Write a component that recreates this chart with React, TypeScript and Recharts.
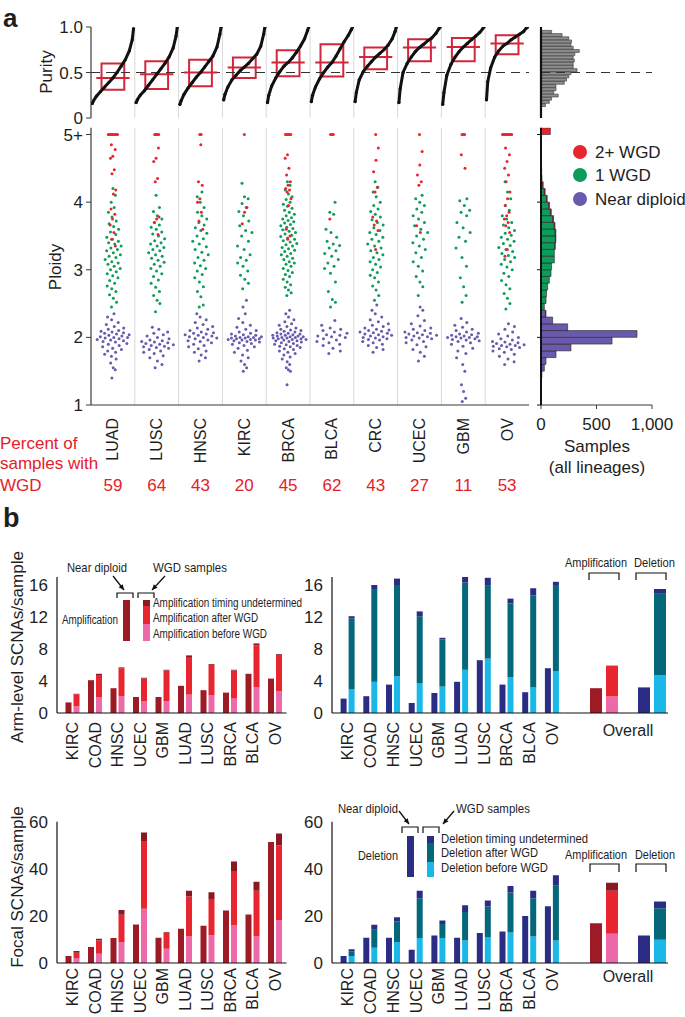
import React from "react";
import {
  ScatterChart, Scatter, BarChart, Bar, XAxis, YAxis,
  ReferenceLine, ReferenceArea, Cell,
} from "recharts";

const FONT = '"Liberation Sans", Arial, Helvetica, sans-serif';
const INK = "#1e1e1e";
const AXIS = "#3a3a3a";
const LABEL_RED = "#e3212b";
const BOX_RED = "#d3263b";
const DOT_RED = "#e8252d";
const DOT_GREEN = "#0d9c5b";
const DOT_PURPLE = "#6a5aae";

// ---- panel a: purity and ploidy by lineage ----
const LINEAGES = ["LUAD", "LUSC", "HNSC", "KIRC", "BRCA", "BLCA", "CRC", "UCEC", "GBM", "OV"];
const WGD_PERCENT = [59, 64, 43, 20, 45, 62, 43, 27, 11, 53];

// sorted purity values read at these quantile levels
const PURITY_QUANTILES = [0, 0.03, 0.1, 0.2, 0.3, 0.4, 0.5, 0.6, 0.7, 0.8, 0.9, 0.97, 1];
const PURITY_CURVES = [
  [0.16, 0.19, 0.24, 0.29, 0.34, 0.39, 0.44, 0.5, 0.57, 0.64, 0.74, 0.86, 0.98],
  [0.17, 0.2, 0.25, 0.3, 0.36, 0.42, 0.48, 0.54, 0.6, 0.67, 0.77, 0.9, 1.0],
  [0.15, 0.19, 0.26, 0.33, 0.39, 0.45, 0.5, 0.56, 0.62, 0.68, 0.78, 0.92, 1.0],
  [0.2, 0.26, 0.34, 0.42, 0.47, 0.52, 0.56, 0.6, 0.65, 0.7, 0.79, 0.92, 1.0],
  [0.17, 0.25, 0.35, 0.44, 0.51, 0.57, 0.61, 0.66, 0.72, 0.79, 0.87, 0.96, 1.0],
  [0.18, 0.25, 0.34, 0.43, 0.5, 0.56, 0.61, 0.68, 0.76, 0.84, 0.91, 0.97, 1.0],
  [0.18, 0.28, 0.42, 0.51, 0.57, 0.62, 0.67, 0.71, 0.75, 0.8, 0.87, 0.95, 1.0],
  [0.17, 0.32, 0.5, 0.6, 0.67, 0.73, 0.775, 0.81, 0.85, 0.88, 0.93, 0.98, 1.0],
  [0.15, 0.28, 0.47, 0.59, 0.67, 0.73, 0.78, 0.82, 0.86, 0.9, 0.94, 0.98, 1.0],
  [0.2, 0.4, 0.55, 0.67, 0.74, 0.79, 0.82, 0.86, 0.89, 0.92, 0.95, 0.99, 1.0],
];
const PURITY_Q1 = [0.31, 0.32, 0.35, 0.44, 0.46, 0.455, 0.535, 0.625, 0.625, 0.7];
const PURITY_MEDIAN = [0.44, 0.48, 0.5, 0.556, 0.61, 0.61, 0.67, 0.775, 0.78, 0.82];
const PURITY_Q3 = [0.6, 0.625, 0.64, 0.665, 0.745, 0.81, 0.775, 0.865, 0.88, 0.91];

const PURITY_BINS = [0.14, 0.175, 0.21, 0.245, 0.28, 0.315, 0.35, 0.385, 0.42, 0.455, 0.49, 0.525,
  0.56, 0.595, 0.63, 0.665, 0.7, 0.735, 0.77, 0.805, 0.84, 0.875, 0.91, 0.945];
const PURITY_COUNTS = [40, 75, 95, 155, 115, 135, 135, 210, 230, 250, 270, 325,
  290, 290, 300, 290, 305, 345, 290, 270, 275, 250, 190, 96];

// ploidy per sample (5 = 5+)
const PLOIDY_DIPLOID = [
  [1.4, 1.52, 1.55, 1.62, 1.68, 1.72, 1.75, 1.78, 1.8, 1.82, 1.84, 1.86, 1.88, 1.9, 1.91, 1.93, 1.94, 1.95, 1.96, 1.97, 1.98, 1.99, 2.0, 2.0, 2.01, 2.02, 2.03, 2.04, 2.05, 2.06, 2.07, 2.08, 2.09, 2.1, 2.12, 2.14, 2.16, 2.19, 2.22, 2.26, 2.3, 2.35],
  [1.55, 1.6, 1.65, 1.7, 1.73, 1.76, 1.78, 1.8, 1.82, 1.84, 1.85, 1.86, 1.87, 1.88, 1.89, 1.9, 1.91, 1.92, 1.93, 1.94, 1.95, 1.96, 1.98, 2.0, 2.02, 2.04, 2.06, 2.08, 2.12, 2.15],
  [1.65, 1.7, 1.74, 1.78, 1.8, 1.83, 1.86, 1.88, 1.9, 1.92, 1.94, 1.95, 1.96, 1.98, 1.99, 2.0, 2.01, 2.02, 2.03, 2.04, 2.05, 2.06, 2.07, 2.08, 2.1, 2.12, 2.14, 2.16, 2.19, 2.22, 2.26, 2.3, 2.35],
  [1.5, 1.55, 1.6, 1.65, 1.7, 1.74, 1.78, 1.81, 1.84, 1.86, 1.88, 1.9, 1.91, 1.92, 1.93, 1.94, 1.95, 1.96, 1.96, 1.97, 1.97, 1.98, 1.98, 1.99, 1.99, 2.0, 2.0, 2.01, 2.01, 2.02, 2.03, 2.04, 2.05, 2.06, 2.08, 2.1, 2.12, 2.15, 2.18, 2.22, 2.28, 2.35, 2.45, 2.55],
  [1.3, 1.5, 1.52, 1.55, 1.6, 1.64, 1.68, 1.71, 1.74, 1.76, 1.78, 1.8, 1.82, 1.83, 1.85, 1.86, 1.87, 1.88, 1.89, 1.9, 1.91, 1.92, 1.93, 1.94, 1.95, 1.95, 1.96, 1.97, 1.97, 1.98, 1.98, 1.99, 1.99, 2.0, 2.0, 2.01, 2.01, 2.02, 2.02, 2.03, 2.03, 2.04, 2.05, 2.05, 2.06, 2.07, 2.08, 2.09, 2.1, 2.11, 2.12, 2.14, 2.16, 2.18, 2.2, 2.23, 2.26, 2.3, 2.35, 2.4],
  [1.76, 1.8, 1.84, 1.88, 1.9, 1.92, 1.94, 1.96, 1.98, 2.0, 2.01, 2.02, 2.03, 2.04, 2.06, 2.08, 2.1, 2.12, 2.14, 2.18, 2.25],
  [1.78, 1.82, 1.85, 1.88, 1.9, 1.92, 1.94, 1.96, 1.97, 1.98, 1.99, 2.0, 2.01, 2.02, 2.03, 2.04, 2.05, 2.06, 2.07, 2.08, 2.09, 2.1, 2.11, 2.12, 2.14, 2.16, 2.18, 2.2, 2.23, 2.26, 2.3, 2.35, 2.4, 2.48],
  [1.65, 1.72, 1.78, 1.82, 1.86, 1.89, 1.92, 1.94, 1.96, 1.98, 1.99, 2.0, 2.01, 2.02, 2.03, 2.04, 2.05, 2.06, 2.07, 2.08, 2.1, 2.12, 2.14, 2.17, 2.2, 2.25, 2.32, 2.4, 2.45],
  [1.05, 1.1, 1.2, 1.3, 1.5, 1.6, 1.7, 1.76, 1.8, 1.84, 1.87, 1.9, 1.92, 1.94, 1.95, 1.96, 1.97, 1.98, 1.99, 2.0, 2.0, 2.01, 2.01, 2.02, 2.03, 2.04, 2.05, 2.06, 2.08, 2.1, 2.12, 2.15, 2.18, 2.22, 2.28],
  [1.6, 1.64, 1.68, 1.72, 1.75, 1.78, 1.8, 1.82, 1.83, 1.85, 1.86, 1.87, 1.88, 1.88, 1.89, 1.9, 1.91, 1.92, 1.93, 1.94, 1.96, 1.98, 2.0, 2.02, 2.05, 2.08, 2.12, 2.16, 2.2],
];
const PLOIDY_ONE_WGD = [
  [2.45, 2.52, 2.58, 2.63, 2.68, 2.72, 2.76, 2.8, 2.84, 2.88, 2.91, 2.94, 2.97, 3.0, 3.02, 3.05, 3.08, 3.1, 3.12, 3.15, 3.18, 3.2, 3.22, 3.25, 3.28, 3.3, 3.32, 3.35, 3.38, 3.4, 3.42, 3.45, 3.48, 3.52, 3.56, 3.6, 3.64, 3.68, 3.72, 3.78, 3.85, 3.92, 4.0, 4.1, 4.2],
  [2.38, 2.5, 2.55, 2.62, 2.68, 2.74, 2.8, 2.85, 2.9, 2.94, 2.98, 3.02, 3.05, 3.08, 3.11, 3.14, 3.17, 3.2, 3.22, 3.25, 3.28, 3.3, 3.33, 3.35, 3.38, 3.4, 3.43, 3.46, 3.5, 3.53, 3.56, 3.6, 3.63, 3.66, 3.7, 3.75, 3.8, 3.86, 3.92, 4.1],
  [2.45, 2.48, 2.6, 2.68, 2.75, 2.82, 2.88, 2.93, 2.98, 3.02, 3.06, 3.1, 3.14, 3.18, 3.22, 3.26, 3.3, 3.34, 3.38, 3.42, 3.46, 3.5, 3.54, 3.58, 3.62, 3.66, 3.7, 3.75, 3.8, 3.85, 3.92, 4.0, 4.08, 4.15],
  [2.72, 2.8, 2.86, 2.92, 2.98, 3.05, 3.1, 3.14, 3.18, 3.22, 3.3, 3.35, 3.42, 3.5, 3.55, 3.58, 3.65, 3.72, 3.8, 3.86, 3.92, 3.98, 4.05, 4.08, 4.28],
  [2.62, 2.66, 2.7, 2.74, 2.78, 2.82, 2.86, 2.9, 2.93, 2.96, 2.99, 3.02, 3.05, 3.08, 3.1, 3.12, 3.15, 3.17, 3.2, 3.22, 3.24, 3.27, 3.29, 3.31, 3.33, 3.35, 3.37, 3.39, 3.41, 3.43, 3.45, 3.47, 3.49, 3.51, 3.53, 3.55, 3.57, 3.59, 3.61, 3.63, 3.65, 3.67, 3.69, 3.71, 3.73, 3.75, 3.77, 3.8, 3.82, 3.85, 3.88, 3.91, 3.94, 3.97, 4.0, 4.04, 4.08, 4.12, 4.18, 4.25, 4.3],
  [2.45, 2.52, 2.56, 2.68, 2.82, 2.95, 3.02, 3.05, 3.1, 3.15, 3.2, 3.24, 3.28, 3.32, 3.36, 3.38, 3.42, 3.48, 3.55, 3.6, 3.82, 3.85, 4.0],
  [2.55, 2.62, 2.7, 2.76, 2.82, 2.88, 2.92, 2.96, 3.0, 3.04, 3.08, 3.12, 3.15, 3.18, 3.22, 3.25, 3.28, 3.32, 3.35, 3.38, 3.42, 3.45, 3.48, 3.52, 3.55, 3.58, 3.62, 3.66, 3.7, 3.74, 3.78, 3.82, 3.86, 3.9, 3.95, 4.0, 4.08, 4.15, 4.22, 4.3],
  [2.62, 2.75, 2.82, 2.9, 2.98, 3.05, 3.12, 3.18, 3.25, 3.3, 3.35, 3.4, 3.45, 3.5, 3.55, 3.6, 3.65, 3.7, 3.75, 3.8, 3.85, 3.9, 3.95, 4.0, 4.05, 4.1],
  [2.52, 2.62, 2.75, 2.88, 3.05, 3.18, 3.32, 3.42, 3.48, 3.55, 3.62, 3.7, 3.8, 3.85, 3.88, 3.95, 4.02, 4.05],
  [2.42, 2.5, 2.58, 2.65, 2.72, 2.78, 2.84, 2.9, 2.95, 3.0, 3.04, 3.08, 3.12, 3.15, 3.18, 3.21, 3.24, 3.27, 3.3, 3.33, 3.36, 3.39, 3.42, 3.45, 3.48, 3.51, 3.54, 3.58, 3.62, 3.66, 3.7, 3.75, 3.8, 3.88, 3.95, 4.05, 4.15, 4.3],
];
const PLOIDY_TWO_WGD = [
  [5, 5, 5, 5, 5, 5, 5, 5, 4.85, 4.78, 4.68, 4.65, 4.48, 4.42, 4.18, 4.12, 3.9, 3.82, 3.75, 3.66, 3.55, 3.45, 3.35],
  [5, 5, 5, 5, 4.8, 4.65, 4.6, 4.35, 4.3, 3.78, 3.75, 3.7, 3.52],
  [5, 5, 4.85, 4.3, 4.25, 4.05, 4.0, 3.85, 3.72, 3.6],
  [5, 3.92, 3.85, 3.68],
  [5, 5, 5, 5, 5, 4.7, 4.65, 4.5, 4.4, 4.3, 4.25, 4.2, 4.18, 4.15, 4.05, 3.95, 3.6, 3.5, 3.45],
  [5, 5, 5, 3.75],
  [5, 4.8, 4.62, 4.45, 4.22, 4.15, 3.78, 3.72, 3.66, 3.58, 3.3],
  [5, 4.75, 4.55, 4.4, 4.3, 4.25, 3.65, 3.55],
  [5, 5, 5, 4.7, 4.5],
  [5, 5, 5, 5, 5, 5, 5, 5, 4.8, 4.7, 4.6, 4.5, 4.4, 4.3, 4.15, 4.05, 3.95, 3.85, 3.8, 3.75, 3.7, 3.65, 3.55, 3.3, 3.2],
];

// ploidy histogram (all lineages), bin centres; last bin is 5+
const PLOIDY_BINS = [1.45, 1.55, 1.65, 1.75, 1.85, 1.95, 2.05, 2.15, 2.25, 2.35, 2.45, 2.55, 2.65, 2.75, 2.85, 2.95,
  3.05, 3.15, 3.25, 3.35, 3.45, 3.55, 3.65, 3.75, 3.85, 3.95, 4.05, 4.15, 4.25, 4.35, 4.45, 4.55, 4.65, 4.75, 4.85, 4.95, 5.05];
const HIST_DIPLOID = [8, 30, 45, 135, 270, 640, 865, 240, 105, 40, 5, 0, 0, 0, 0, 0,
  0, 0, 0, 0, 0, 0, 0, 0, 0, 0, 0, 0, 0, 0, 0, 0, 0, 0, 0, 0, 0];
const HIST_ONE_WGD = [0, 0, 0, 0, 0, 0, 0, 0, 0, 5, 25, 45, 50, 60, 75, 90,
  95, 120, 120, 125, 130, 128, 120, 105, 85, 70, 50, 30, 12, 3, 0, 0, 0, 0, 0, 0, 0];
const HIST_TWO_WGD = [0, 0, 0, 0, 0, 0, 0, 0, 0, 0, 0, 0, 0, 0, 0, 0,
  0, 0, 0, 2, 4, 6, 6, 8, 8, 6, 6, 8, 8, 6, 6, 5, 5, 4, 4, 3, 84];

// ---- panel b: SCNAs per sample ----
const CANCERS = ["KIRC", "COAD", "HNSC", "UCEC", "GBM", "LUAD", "LUSC", "BRCA", "BLCA", "OV"];

const ARM_AMP_DIPLOID = [1.32, 4.1, 3.1, 2.0, 2.0, 3.4, 2.85, 2.55, 4.9, 4.3];
const ARM_AMP_BEFORE = [0.83, 2.0, 2.1, 1.5, 1.5, 2.3, 2.2, 1.8, 3.2, 2.7];
const ARM_AMP_AFTER = [1.52, 2.75, 3.5, 2.8, 3.8, 4.7, 3.8, 3.5, 5.25, 4.55];
const ARM_AMP_UNDET = [0.05, 0.15, 0.1, 0.1, 0.1, 0.2, 0.1, 0.1, 0.25, 0.1];

const ARM_DEL_DIPLOID = [1.8, 2.1, 3.55, 1.25, 2.5, 3.9, 6.6, 3.55, 2.6, 5.6];
const ARM_DEL_BEFORE = [3.0, 3.9, 4.6, 3.7, 3.3, 5.4, 6.8, 4.5, 3.2, 5.25];
const ARM_DEL_AFTER = [8.8, 11.6, 11.4, 8.4, 5.9, 10.9, 9.1, 9.2, 11.5, 10.75];
const ARM_DEL_UNDET = [0.3, 0.5, 0.8, 0.6, 0.2, 0.8, 1.0, 0.6, 0.9, 0.4];

const FOCAL_AMP_DIPLOID = [3.0, 6.8, 10.6, 16.3, 10.7, 14.5, 15.8, 22.3, 20.6, 51.4];
const FOCAL_AMP_BEFORE = [2.1, 3.9, 8.9, 23.0, 6.1, 11.4, 11.8, 16.1, 11.3, 18.3];
const FOCAL_AMP_AFTER = [2.3, 5.7, 11.6, 28.5, 6.3, 16.8, 15.4, 22.6, 19.4, 31.7];
const FOCAL_AMP_UNDET = [0.7, 0.7, 2.0, 3.9, 0.7, 2.5, 2.8, 4.4, 3.8, 5.0];

const FOCAL_DEL_DIPLOID = [3.0, 10.7, 10.7, 5.6, 11.7, 10.7, 12.7, 13.4, 20.0, 24.1];
const FOCAL_DEL_BEFORE = [3.0, 6.5, 8.9, 10.6, 10.6, 9.6, 11.0, 13.0, 11.3, 9.6];
const FOCAL_DEL_AFTER = [2.0, 7.6, 8.7, 16.9, 6.0, 12.1, 13.0, 16.9, 16.2, 23.2];
const FOCAL_DEL_UNDET = [0.8, 2.1, 1.8, 3.2, 1.4, 2.8, 2.5, 2.8, 3.2, 4.5];

// overall: [near diploid, before WGD, after WGD, undetermined]
const ARM_OVERALL_AMP = [3.1, 2.07, 3.8, 0.05];
const ARM_OVERALL_DEL = [3.2, 4.7, 10.2, 0.6];
const FOCAL_OVERALL_AMP = [16.9, 12.4, 18.3, 3.4];
const FOCAL_OVERALL_DEL = [11.7, 9.9, 13.4, 2.8];

const AMP = { dip: "#9c1b24", before: "#ec6aa8", after: "#e9262f", und: "#8a1820" };
const DEL = { dip: "#2b2d84", before: "#1ab8e8", after: "#04687a", und: "#2b2d84" };

// ---------- helpers ----------
const GOLDEN = 0.6180339887;
const jit = (k: number) => (((k * GOLDEN + 0.31) % 1) * 2 - 1);

function spreadDots(lists: number[][], kind: string) {
  const out: { x: number; y: number }[] = [];
  lists.forEach((vals, i) => {
    const mid = vals[Math.floor(vals.length / 2)];
    const tops = vals.filter((v) => v >= 5).length;
    let t = 0;
    vals.forEach((v, k) => {
      let dx;
      if (kind === "two" && v >= 5) { dx = (t - (tops - 1) / 2) * 0.03; t++; }
      else if (kind === "two") dx = jit(k) * 0.07;
      else if (kind === "one") dx = jit(k) * 0.21 * Math.max(0.35, 1 - Math.abs(v - mid) / 1.3);
      else dx = jit(k) * 0.42 * Math.max(0.15, 1 - Math.abs(v - mid) / 0.45);
      out.push({ x: i + 0.5 + dx, y: v });
    });
  });
  return out;
}

const dot = (color: string, r: number) => (p: any) =>
  <circle cx={p.cx} cy={p.cy} r={r} fill={color} />;

const SEPARATORS = [1, 2, 3, 4, 5, 6, 7, 8, 9];
const CAT_CENTERS = [0.5, 1.5, 2.5, 3.5, 4.5, 5.5, 6.5, 7.5, 8.5, 9.5];

// ---------- panel a charts ----------
function PurityPanel() {
  return (
    <div style={{ position: "absolute", left: 0, top: 0 }}>
      <ScatterChart width={540} height={135} margin={{ top: 27, right: 11, bottom: 17, left: 41 }}>
        <XAxis type="number" dataKey="x" domain={[0, 10]} allowDataOverflow height={0}
          tick={false} tickLine={false} axisLine={{ stroke: AXIS, strokeWidth: 1.2 }} />
        <YAxis type="number" dataKey="y" domain={[0, 1]} allowDataOverflow ticks={[0, 0.5, 1]} width={50}
          tickSize={5} tickMargin={3} tickFormatter={(v) => (v === 1 ? "1.0" : String(v))}
          tick={{ fontSize: 17, fill: INK }} axisLine={{ stroke: AXIS, strokeWidth: 1.2 }} tickLine={{ stroke: AXIS }} />
        {SEPARATORS.map((k) => <ReferenceLine key={"s" + k} x={k} stroke="#d8d8d8" />)}
        <ReferenceLine y={0.5} stroke="#333" strokeDasharray="9 6" strokeWidth={1.2} />
        {PURITY_CURVES.map((vals, i) => (
          <Scatter key={"c" + i} isAnimationActive={false}
            data={vals.map((y, k) => ({ x: i + 0.03 + 0.94 * PURITY_QUANTILES[k], y }))}
            line={{ stroke: "#111", strokeWidth: 3, strokeLinecap: "round" }} lineType="joint"
            shape={dot("#111", 1.6)} />
        ))}
        {LINEAGES.map((_, i) => (
          <ReferenceArea key={"b" + i} x1={i + 0.24} x2={i + 0.76} y1={PURITY_Q1[i]} y2={PURITY_Q3[i]}
            fill="none" fillOpacity={0} stroke={BOX_RED} strokeWidth={2} />
        ))}
        {LINEAGES.map((_, i) => (
          <ReferenceLine key={"m" + i} segment={[{ x: i + 0.12, y: PURITY_MEDIAN[i] }, { x: i + 0.88, y: PURITY_MEDIAN[i] }]}
            stroke={BOX_RED} strokeWidth={2} />
        ))}
      </ScatterChart>
    </div>
  );
}

function PurityHistogram() {
  const rows = PURITY_BINS.map((bin, i) => ({ bin, n: PURITY_COUNTS[i] }));
  return (
    <div style={{ position: "absolute", left: 500, top: 0 }}>
      <BarChart layout="vertical" width={185} height={135} data={rows}
        margin={{ top: 27, right: 33, bottom: 17, left: 40 }}>
        <XAxis type="number" domain={[0, 1000]} allowDataOverflow height={0} tick={false} tickLine={false}
          axisLine={{ stroke: AXIS, strokeWidth: 1.2 }} />
        <YAxis type="number" dataKey="bin" domain={[0, 1]} allowDataOverflow reversed width={1} tick={false} tickLine={false}
          axisLine={{ stroke: "#111", strokeWidth: 2.2 }} />
        <ReferenceLine y={0.5} stroke="#333" strokeDasharray="9 6" strokeWidth={1.2} />
        <Bar dataKey="n" barSize={3.2} fill="#8f8f8f" stroke="#333" strokeWidth={0.6} isAnimationActive={false} />
      </BarChart>
    </div>
  );
}

const LineageTick = (p: any) => {
  const i = Math.floor(p.payload.value);
  return (
    <g>
      <text x={p.x} y={p.y} transform={`rotate(-90 ${p.x} ${p.y})`} textAnchor="end"
        dominantBaseline="central" fontSize={16} fill={INK}>{LINEAGES[i]}</text>
      <text x={p.x} y={p.y + 73} textAnchor="middle" fontSize={17} fill={LABEL_RED}>{WGD_PERCENT[i]}</text>
    </g>
  );
};

function PloidyPanel() {
  return (
    <div style={{ position: "absolute", left: 0, top: 125 }}>
      <ScatterChart width={540} height={380} margin={{ top: 2.74, right: 11, bottom: 40, left: 41 }}>
        <XAxis type="number" dataKey="x" domain={[0, 10]} allowDataOverflow ticks={CAT_CENTERS} height={60}
          tickSize={0} tickMargin={13} tickLine={false} tick={LineageTick} interval={0}
          axisLine={{ stroke: AXIS, strokeWidth: 1.2 }} />
        <YAxis type="number" dataKey="y" domain={[1, 5.1]} allowDataOverflow ticks={[1, 2, 3, 4, 5]} width={50}
          tickSize={5} tickMargin={3} tickFormatter={(v) => (v === 5 ? "5+" : String(v))}
          tick={{ fontSize: 17, fill: INK }} axisLine={{ stroke: AXIS, strokeWidth: 1.2 }} tickLine={{ stroke: AXIS }} />
        {SEPARATORS.map((k) => <ReferenceLine key={"s" + k} x={k} stroke="#d8d8d8" />)}
        <Scatter data={spreadDots(PLOIDY_DIPLOID, "dip")} shape={dot(DOT_PURPLE, 1.5)} isAnimationActive={false} />
        <Scatter data={spreadDots(PLOIDY_ONE_WGD, "one")} shape={dot(DOT_GREEN, 1.5)} isAnimationActive={false} />
        <Scatter data={spreadDots(PLOIDY_TWO_WGD, "two")} shape={dot(DOT_RED, 1.5)} isAnimationActive={false} />
      </ScatterChart>
    </div>
  );
}

function PloidyHistogram() {
  const rows = PLOIDY_BINS.map((bin, i) => ({
    bin, dip: HIST_DIPLOID[i], one: HIST_ONE_WGD[i], two: HIST_TWO_WGD[i],
  }));
  return (
    <div style={{ position: "absolute", left: 500, top: 125 }}>
      <BarChart layout="vertical" width={185} height={380} data={rows}
        margin={{ top: 2.74, right: 33, bottom: 40, left: 40 }}>
        <XAxis type="number" domain={[0, 1000]} allowDataOverflow ticks={[0, 500, 1000]} height={60}
          tickSize={4} tickMargin={9} tickFormatter={(v) => (v === 1000 ? "1,000" : String(v))}
          tick={{ fontSize: 17, fill: INK }} axisLine={{ stroke: AXIS, strokeWidth: 1.2 }} tickLine={{ stroke: AXIS }} />
        <YAxis type="number" dataKey="bin" domain={[1, 5.1]} allowDataOverflow reversed ticks={[1, 2, 3, 4, 5]} width={1}
          tickSize={4} tickFormatter={() => ""} axisLine={{ stroke: "#111", strokeWidth: 2 }} tickLine={{ stroke: "#111" }} />
        <Bar dataKey="dip" stackId="h" barSize={6.7} fill={DOT_PURPLE} stroke="#222" strokeWidth={0.6} isAnimationActive={false} />
        <Bar dataKey="one" stackId="h" barSize={6.7} fill={DOT_GREEN} stroke="#222" strokeWidth={0.6} isAnimationActive={false} />
        <Bar dataKey="two" stackId="h" barSize={6.7} fill={DOT_RED} stroke="#222" strokeWidth={0.6} isAnimationActive={false} />
      </BarChart>
    </div>
  );
}

// ---------- panel b charts ----------
const CancerTick = (p: any) => (
  <text x={p.x} y={p.y} transform={`rotate(-90 ${p.x} ${p.y})`} textAnchor="end"
    dominantBaseline="central" fontSize={16} fill={INK}>{p.payload.value}</text>
);

const OverallTick = (p: any) =>
  p.payload.value === "gap"
    ? <text x={p.x} y={p.y + 14} textAnchor="middle" fontSize={16} fill={INK}>Overall</text>
    : <g />;

function CancerBars(props: any) {
  const { left, top, width, height, margin, yWidth, xHeight, pad, domain, ticks, pal, labelGap,
    dip, before, after, und } = props;
  const rows = CANCERS.map((name, i) => ({ name, dip: dip[i], before: before[i], after: after[i], und: und[i] }));
  return (
    <div style={{ position: "absolute", left, top }}>
      <BarChart width={width} height={height} data={rows} margin={margin} barGap={2} barSize={6}>
        <XAxis dataKey="name" type="category" height={xHeight} padding={{ left: pad, right: 0 }}
          tickSize={0} tickMargin={labelGap} tickLine={false} tick={CancerTick} interval={0}
          axisLine={{ stroke: "#111", strokeWidth: 1.2 }} />
        <YAxis type="number" domain={domain} allowDataOverflow ticks={ticks} width={yWidth}
          tickSize={0} tickMargin={9} tickLine={false} tick={{ fontSize: 17, fill: INK }}
          axisLine={{ stroke: "#111", strokeWidth: 1.2 }} />
        <Bar dataKey="dip" stackId="a" fill={pal.dip} isAnimationActive={false} />
        <Bar dataKey="before" stackId="b" fill={pal.before} isAnimationActive={false} />
        <Bar dataKey="after" stackId="b" fill={pal.after} isAnimationActive={false} />
        <Bar dataKey="und" stackId="b" fill={pal.und} isAnimationActive={false} />
      </BarChart>
    </div>
  );
}

function OverallBars(props: any) {
  const { left, top, height, margin, xHeight, domain, labelGap, amp, del } = props;
  const rows = [
    { name: "ampDip", kind: "amp", dip: amp[0] },
    { name: "ampWgd", kind: "amp", before: amp[1], after: amp[2], und: amp[3] },
    { name: "gap", kind: "gap" },
    { name: "delDip", kind: "del", dip: del[0] },
    { name: "delWgd", kind: "del", before: del[1], after: del[2], und: del[3] },
  ];
  const pal = (kind: string) => (kind === "del" ? DEL : AMP);
  const keys = ["dip", "before", "after", "und"];
  return (
    <div style={{ position: "absolute", left, top }}>
      <BarChart width={125} height={height} data={rows} margin={margin} barSize={12}>
        <XAxis dataKey="name" type="category" height={xHeight} padding={{ left: 24.4, right: 0 }}
          tickSize={0} tickMargin={labelGap} tickLine={false} tick={OverallTick} interval={0}
          axisLine={{ stroke: "#111", strokeWidth: 1.2 }} />
        <YAxis hide type="number" domain={domain} allowDataOverflow />
        {keys.map((k) => (
          <Bar key={k} dataKey={k} stackId="o" isAnimationActive={false}>
            {rows.map((r, i) => <Cell key={i} fill={(pal(r.kind) as any)[k]} />)}
          </Bar>
        ))}
      </BarChart>
    </div>
  );
}

// ---------- annotations ----------
function Arrow({ x1, y1, x2, y2 }: any) {
  const a = Math.atan2(y2 - y1, x2 - x1);
  const h = 6;
  const p1 = [x2 - h * Math.cos(a - 0.45), y2 - h * Math.sin(a - 0.45)];
  const p2 = [x2 - h * Math.cos(a + 0.45), y2 - h * Math.sin(a + 0.45)];
  return (
    <g>
      <line x1={x1} y1={y1} x2={x2} y2={y2} stroke="#111" strokeWidth={1.3} />
      <polygon points={`${x2},${y2} ${p1[0]},${p1[1]} ${p2[0]},${p2[1]}`} fill="#111" />
    </g>
  );
}

const Bracket = ({ x1, x2, y, h }: any) => (
  <path d={`M${x1} ${y + h} V${y} H${x2} V${y + h}`} fill="none" stroke="#111" strokeWidth={1.2} />
);

// condensed annotation text, squeezed to the width it takes in the figure
const Cond = ({ x, y, w, size, children }: any) => (
  <text x={x} y={y} fontSize={size} textLength={w} lengthAdjust="spacingAndGlyphs">{children}</text>
);

function Overlay() {
  return (
    <svg width={685} height={1017} style={{ position: "absolute", left: 0, top: 0, pointerEvents: "none" }}
      fontFamily={FONT} fill={INK}>
      <text x={3} y={27} fontSize={26} fontWeight="bold">a</text>
      <text x={3} y={527} fontSize={27} fontWeight="bold">b</text>

      <text transform="translate(46 72) rotate(-90)" textAnchor="middle" dominantBaseline="central" fontSize={17}>Purity</text>
      <text transform="translate(55 267) rotate(-90)" textAnchor="middle" dominantBaseline="central" fontSize={17}>Ploidy</text>

      <circle cx={580} cy={152} r={7} fill={DOT_RED} />
      <text x={595} y={158} fontSize={17}>2+ WGD</text>
      <circle cx={580} cy={175} r={7} fill={DOT_GREEN} />
      <text x={595} y={181} fontSize={17}>1 WGD</text>
      <circle cx={580} cy={199} r={7} fill={DOT_PURPLE} />
      <text x={595} y={205} fontSize={17}>Near diploid</text>

      <text x={0} y={449} fontSize={17} fill={LABEL_RED}>Percent of</text>
      <text x={0} y={469} fontSize={17} fill={LABEL_RED}>samples with</text>
      <text x={0} y={491} fontSize={17} fill={LABEL_RED}>WGD</text>

      <text x={597} y={452} fontSize={17} textAnchor="middle">Samples</text>
      <text x={597} y={473} fontSize={17} textAnchor="middle">(all lineages)</text>

      <text transform="translate(17 647) rotate(-90)" textAnchor="middle" dominantBaseline="central" fontSize={17}>Arm-level SCNAs/sample</text>
      <text transform="translate(17 887) rotate(-90)" textAnchor="middle" dominantBaseline="central" fontSize={17}>Focal SCNAs/sample</text>

      {/* arm-level amplification key */}
      <Cond x={67} y={572} w={60} size={13}>Near diploid</Cond>
      <Cond x={153} y={572} w={74} size={13}>WGD samples</Cond>
      <Arrow x1={113} y1={576} x2={124} y2={590} />
      <Arrow x1={165} y1={576} x2={152} y2={590} />
      <Bracket x1={117} x2={133} y={593} h={5} />
      <Bracket x1={138} x2={154} y={593} h={5} />
      <rect x={123} y={600} width={7} height={41} fill={AMP.dip} />
      <rect x={143} y={600} width={7} height={6} fill={AMP.und} />
      <rect x={143} y={606} width={7} height={18} fill={AMP.after} />
      <rect x={143} y={624} width={7} height={17} fill={AMP.before} />
      <Cond x={62} y={624} w={56} size={12}>Amplification</Cond>
      <Cond x={153} y={607} w={149} size={12}>Amplification timing undetermined</Cond>
      <Cond x={153} y={622} w={105} size={12}>Amplification after WGD</Cond>
      <Cond x={153} y={638} w={114} size={12}>Amplification before WGD</Cond>

      <Cond x={565} y={567} w={62} size={13}>Amplification</Cond>
      <Cond x={634} y={567} w={41} size={13}>Deletion</Cond>
      <Bracket x1={589} x2={619} y={573} h={7} />
      <Bracket x1={636} x2={666} y={573} h={7} />

      {/* focal deletion key */}
      <Cond x={338} y={813} w={60} size={13}>Near diploid</Cond>
      <Cond x={456} y={813} w={74} size={13}>WGD samples</Cond>
      <Arrow x1={399} y1={811} x2={409} y2={824} />
      <Arrow x1={454} y1={811} x2={443} y2={824} />
      <Bracket x1={402} x2={418} y={827} h={6} />
      <Bracket x1={423} x2={439} y={827} h={6} />
      <rect x={407} y={836} width={7} height={41} fill={DEL.dip} />
      <rect x={427} y={836} width={7} height={7} fill={DEL.und} />
      <rect x={427} y={843} width={7} height={19} fill={DEL.after} />
      <rect x={427} y={862} width={7} height={15} fill={DEL.before} />
      <Cond x={358} y={860} w={40} size={13}>Deletion</Cond>
      <Cond x={441} y={843} w={147} size={13}>Deletion timing undetermined</Cond>
      <Cond x={441} y={857} w={97} size={13}>Deletion after WGD</Cond>
      <Cond x={441} y={872} w={107} size={13}>Deletion before WGD</Cond>

      <Cond x={565} y={859} w={62} size={13}>Amplification</Cond>
      <Cond x={635} y={859} w={40} size={13}>Deletion</Cond>
      <Bracket x1={590} x2={619} y={864} h={8} />
      <Bracket x1={636} x2={666} y={864} h={8} />
    </svg>
  );
}

export default function App() {
  const armV = { top: 17, bottom: 12 };
  const focV = { top: 16.7, bottom: 4 };
  return (
    <div style={{ position: "absolute", left: 0, top: 0, width: 685, height: 1017, background: "#fff", fontFamily: FONT, overflow: "hidden" }}>
      <PurityPanel />
      <PurityHistogram />
      <PloidyPanel />
      <PloidyHistogram />

      <CancerBars left={0} top={560} width={300} height={220} margin={{ ...armV, right: 13.5, left: 12 }}
        yWidth={45} xHeight={55} pad={4.5} domain={[0, 17]} ticks={[0, 4, 8, 12, 16]} pal={AMP} labelGap={9}
        dip={ARM_AMP_DIPLOID} before={ARM_AMP_BEFORE} after={ARM_AMP_AFTER} und={ARM_AMP_UNDET} />
      <CancerBars left={280} top={560} width={290} height={220} margin={{ ...armV, right: 6.4, left: 12 }}
        yWidth={40} xHeight={55} pad={4.6} domain={[0, 17]} ticks={[0, 4, 8, 12, 16]} pal={DEL} labelGap={9}
        dip={ARM_DEL_DIPLOID} before={ARM_DEL_BEFORE} after={ARM_DEL_AFTER} und={ARM_DEL_UNDET} />
      <OverallBars left={560} top={560} height={220} margin={{ ...armV, right: 17, left: 3.6 }}
        xHeight={55} domain={[0, 17]} labelGap={9} amp={ARM_OVERALL_AMP} del={ARM_OVERALL_DEL} />

      <CancerBars left={0} top={805} width={300} height={212} margin={{ ...focV, right: 13.5, left: 12 }}
        yWidth={45} xHeight={50} pad={4.5} domain={[0, 60]} ticks={[0, 20, 40, 60]} pal={AMP} labelGap={5}
        dip={FOCAL_AMP_DIPLOID} before={FOCAL_AMP_BEFORE} after={FOCAL_AMP_AFTER} und={FOCAL_AMP_UNDET} />
      <CancerBars left={280} top={805} width={290} height={212} margin={{ ...focV, right: 6.4, left: 12 }}
        yWidth={40} xHeight={50} pad={4.6} domain={[0, 60]} ticks={[0, 20, 40, 60]} pal={DEL} labelGap={5}
        dip={FOCAL_DEL_DIPLOID} before={FOCAL_DEL_BEFORE} after={FOCAL_DEL_AFTER} und={FOCAL_DEL_UNDET} />
      <OverallBars left={560} top={805} height={212} margin={{ ...focV, right: 17, left: 3.6 }}
        xHeight={50} domain={[0, 60]} labelGap={5} amp={FOCAL_OVERALL_AMP} del={FOCAL_OVERALL_DEL} />

      <Overlay />
    </div>
  );
}
